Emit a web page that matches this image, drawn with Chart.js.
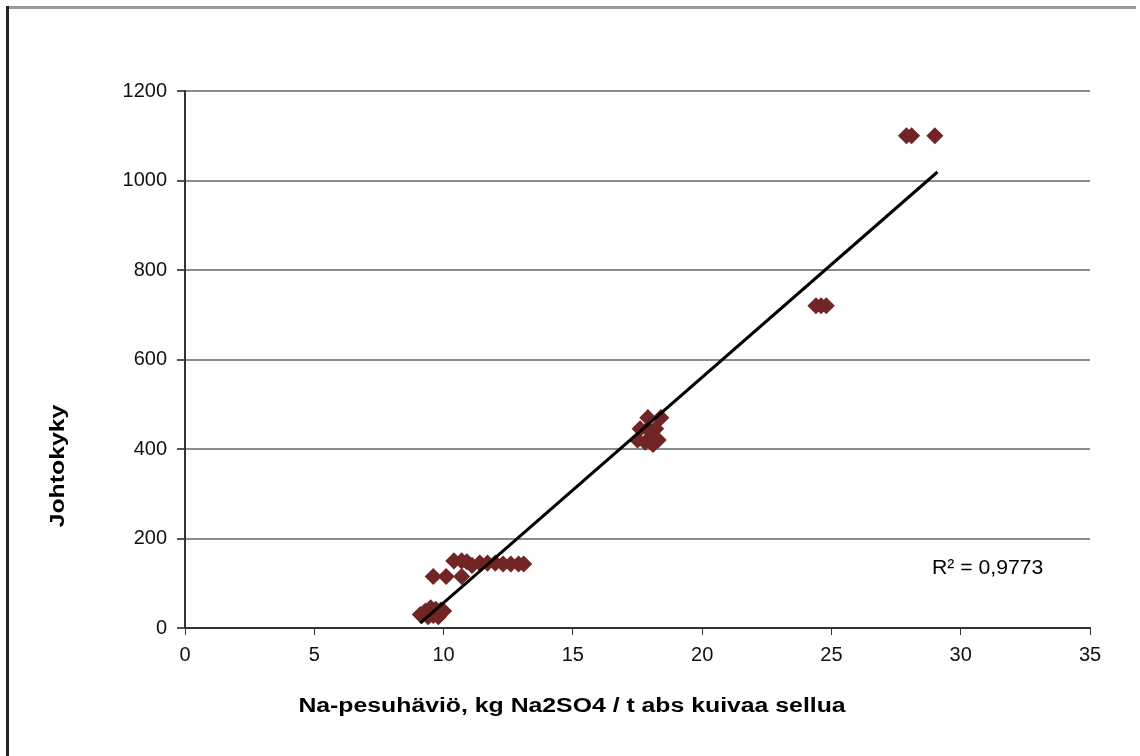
<!DOCTYPE html>
<html lang="fi">
<head>
<meta charset="UTF-8" />
<title>Johtokyky vs Na-pesuhäviö</title>
<script src="https://cdn.jsdelivr.net/npm/chart.js"></script>
<style>
  html, body { margin: 0; padding: 0; background: #fff; }
  #wrap { width: 1140px; height: 756px; position: relative; }
</style>
</head>
<body>
<div id="wrap"><canvas id="chart" width="1140" height="756"></canvas></div>
<script>
// mittauspisteet (luettu kuvasta)
const pesuhavio = [
  9.1, 9.3, 9.5, 9.7, 9.9, 9.4, 9.6, 9.8, 10.0,
  9.6, 10.1, 10.7,
  10.4, 10.7, 10.9, 11.1, 11.4, 11.7, 12.0, 12.3, 12.6, 12.9, 13.1,
  17.9, 18.4, 17.6, 17.9, 18.2, 17.5, 17.8, 18.0, 18.3, 18.1,
  24.4, 24.6, 24.8,
  27.9, 28.1, 29.0
];
const johtokyky = [
  30, 38, 45, 42, 40, 25, 28, 25, 38,
  115, 115, 115,
  150, 150, 148, 140, 145, 145, 145, 143, 143, 143, 143,
  470, 470, 445, 445, 445, 420, 415, 420, 420, 410,
  720, 720, 720,
  1100, 1100, 1100
];

// lineaarinen trendiviiva, päätepisteet kuvasta
const trendX = [9.1, 29.1];
const trendY = [11, 1019];
const r2Text = 'R² = 0,9773';

const xTicks = [0, 5, 10, 15, 20, 25, 30, 35];
const yTicks = [0, 200, 400, 600, 800, 1000, 1200];

const FONT = "'Liberation Sans', Arial, sans-serif";

// venytetty teksti (alkuperäinen kuva on leveämpi kuin korkea)
function stretchedText(ctx, text, x, y, sx) {
  ctx.save();
  ctx.translate(x, y);
  ctx.scale(sx, 1);
  ctx.fillText(text, 0, 0);
  ctx.restore();
}

// kehys, akselien otsikot ja R²-teksti
const extras = {
  id: 'extras',
  afterDraw(chart) {
    const ctx = chart.ctx;
    const a = chart.chartArea;
    ctx.save();
    ctx.fillStyle = '#9a9a9a';
    ctx.fillRect(7, 6, 1129, 3);
    ctx.fillStyle = '#222';
    ctx.fillRect(6, 6, 3, 750);

    ctx.fillStyle = '#000';
    ctx.font = 'bold 20px ' + FONT;
    ctx.textAlign = 'center';
    ctx.textBaseline = 'middle';
    stretchedText(ctx, 'Na-pesuhäviö, kg Na2SO4 / t abs kuivaa sellua', 572, 706, 1.24);

    ctx.translate(58, 466);
    ctx.rotate(-Math.PI / 2);
    stretchedText(ctx, 'Johtokyky', 0, 0, 1.24);
    ctx.restore();

    ctx.save();
    ctx.fillStyle = '#000';
    ctx.font = '20px ' + FONT;
    ctx.textAlign = 'left';
    ctx.textBaseline = 'middle';
    stretchedText(ctx, r2Text, a.right - 158, 568, 1.06);
    ctx.restore();
  }
};

const points = pesuhavio.map((x, i) => ({ x: x, y: johtokyky[i] }));
const trend = trendX.map((x, i) => ({ x: x, y: trendY[i] }));

new Chart(document.getElementById('chart'), {
  type: 'scatter',
  data: {
    datasets: [
      {
        label: 'Johtokyky',
        data: points,
        pointStyle: 'rectRot',
        pointRadius: 7.5,
        pointBackgroundColor: '#722525',
        pointBorderColor: '#722525',
        pointBorderWidth: 1.5,
        order: 2
      },
      {
        label: 'Trendi',
        type: 'line',
        data: trend,
        borderColor: '#000',
        borderWidth: 3,
        pointRadius: 0,
        fill: false,
        order: 1
      }
    ]
  },
  options: {
    responsive: false,
    animation: false,
    layout: { padding: { top: 91, right: 50, left: 0, bottom: 0 } },
    plugins: {
      legend: { display: false },
      tooltip: { enabled: false }
    },
    scales: {
      x: {
        type: 'linear',
        min: 0,
        max: 35,
        afterFit(s) { s.height = 128; },
        afterBuildTicks(s) { s.ticks = xTicks.map(v => ({ value: v })); },
        border: { display: true, color: '#333', width: 2 },
        grid: { drawOnChartArea: false, tickLength: 7, tickColor: '#333', lineWidth: 1 },
        ticks: { color: '#111', font: { family: FONT, size: 20 }, padding: 8, callback: v => String(v) }
      },
      y: {
        type: 'linear',
        min: 0,
        max: 1200,
        afterFit(s) { s.width = 185; },
        afterBuildTicks(s) { s.ticks = yTicks.map(v => ({ value: v })); },
        border: { display: true, color: '#333', width: 2 },
        grid: { color: '#8c8c8c', lineWidth: 2, tickLength: 8, tickColor: '#555' },
        ticks: { color: '#111', font: { family: FONT, size: 20 }, padding: 10, callback: v => String(v) }
      }
    }
  },
  plugins: [extras]
});
</script>
</body>
</html>
